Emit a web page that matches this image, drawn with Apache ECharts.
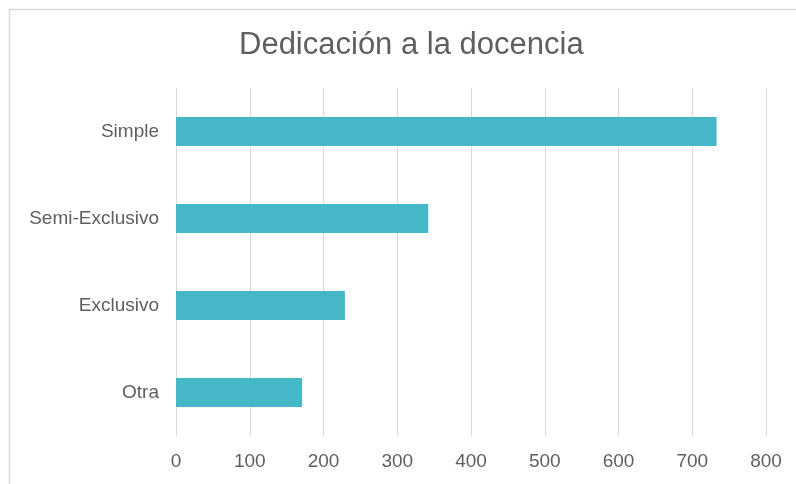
<!DOCTYPE html>
<html>
<head>
<meta charset="utf-8">
<script src="https://cdn.jsdelivr.net/npm/echarts@6/dist/echarts.min.js"></script>
<style>html,body{margin:0;padding:0;background:#fff}#c{width:796px;height:484px}</style>
</head>
<body>
<div id="c"></div>
<script>
const categories = ["Otra", "Exclusivo", "Semi-Exclusivo", "Simple"];
const values = [171, 229, 342, 733];
const xTicks = [0, 100, 200, 300, 400, 500, 600, 700, 800];
const titleText = "Dedicación a la docencia";

const FONT = 'Liberation Sans, Arial, sans-serif';
const chart = echarts.init(document.getElementById('c'), null, {renderer: 'canvas'});
chart.setOption({
  animation: false,
  backgroundColor: '#fff',
  graphic: [{
    type: 'rect', left: 7, top: 7, shape: {width: 820, height: 500},
    style: {fill: 'none', stroke: '#d9d9d9', lineWidth: 1.5}, silent: true
  }],
  title: {
    text: titleText, left: 234, top: 25,
    textStyle: {fontFamily: FONT, fontSize: 31, fontWeight: 'normal', color: '#5f5f5f'}
  },
  grid: {left: 176, right: 30, top: 88, bottom: 48, containLabel: false},
  xAxis: {
    type: 'value', min: xTicks[0], max: xTicks[xTicks.length - 1], interval: 100,
    axisLine: {show: false}, axisTick: {show: false},
    splitLine: {lineStyle: {color: '#d9d9d9', width: 1}},
    axisLabel: {margin: 16, fontFamily: FONT, fontSize: 19, color: '#5f5f5f'}
  },
  yAxis: {
    type: 'category', data: categories,
    axisLine: {show: false}, axisTick: {show: false},
    axisLabel: {margin: 17, fontFamily: FONT, fontSize: 19, color: '#5f5f5f'}
  },
  series: [{
    type: 'bar', data: values, barWidth: 29,
    itemStyle: {color: '#46B7C6'}
  }]
});
</script>
</body>
</html>
